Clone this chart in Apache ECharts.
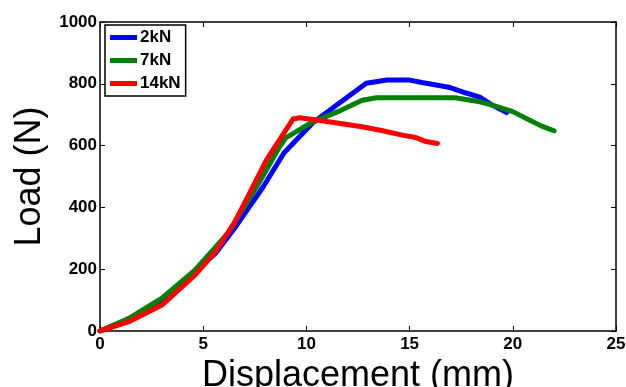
<!DOCTYPE html>
<html>
<head>
<meta charset="utf-8">
<script src="https://cdn.jsdelivr.net/npm/echarts@6/dist/echarts.min.js"></script>
<style>
  html, body { margin: 0; padding: 0; background: #fff; }
  #chart { width: 626px; height: 387px; }
</style>
</head>
<body>
<div id="chart"></div>
<script>
// values
const disp2kN = [0, 1.4, 3.0, 4.6, 5.6, 6.6, 7.9, 8.9, 10.3, 11.6, 12.9, 13.9, 15.0, 15.6, 16.9, 17.7, 18.4, 19.0, 19.7];
const load2kN = [0, 38, 100, 190, 252, 340, 466, 575, 673, 738, 802, 812, 812, 804, 789, 771, 757, 731, 707];

const disp7kN = [0, 1.4, 3.0, 4.6, 6.2, 7.3, 7.7, 8.7, 9.0, 10.2, 11.5, 12.7, 13.4, 15.0, 17.2, 18.4, 19.0, 20.0, 20.8, 21.4, 22.0];
const load7kN = [0, 41, 106, 197, 317, 435, 479, 596, 625, 673, 709, 747, 755, 755, 755, 742, 731, 710, 683, 663, 648];

const disp14kN = [0, 1.4, 3.0, 4.6, 5.6, 6.5, 7.25, 8.06, 9.35, 9.67, 10.5, 11.4, 12.7, 13.7, 14.65, 15.3, 15.8, 16.35];
const load14kN = [0, 30, 84, 181, 257, 349, 446, 553, 686, 690, 683, 674, 661, 648, 634, 626, 613, 607];

const seriesNames = ['2kN', '7kN', '14kN'];
const seriesColors = ['#0000ff', '#008000', '#ff0000'];

const xTicks = { min: 0, max: 25, interval: 5 };
const yTicks = { min: 0, max: 1000, interval: 200 };

const font = 'Liberation Sans, Arial, Helvetica, sans-serif';

function pairs(xs, ys) {
  return xs.map((x, i) => [x, ys[i]]);
}

const chart = echarts.init(document.getElementById('chart'), null, { renderer: 'canvas' });

const lineStyleAxis = { color: '#000', width: 1.5 };
const tickInside = { show: true, inside: true, length: 5, lineStyle: { color: '#000', width: 1 } };
const tickLabel = { fontFamily: font, fontSize: 17, fontWeight: 'bold', color: '#000', formatter: v => String(v) };

chart.setOption({
  animation: false,
  backgroundColor: '#fff',
  grid: { left: 100, right: 10, top: 22, bottom: 56, containLabel: false, outerBoundsMode: 'none' },
  legend: {
    left: 105,
    top: 25,
    orient: 'vertical',
    icon: 'rect',
    itemWidth: 27,
    itemHeight: 5,
    itemGap: 6,
    padding: [4, 5, 4, 5],
    borderColor: '#000',
    borderWidth: 1.5,
    backgroundColor: '#fff',
    textStyle: { fontFamily: font, fontSize: 17, fontWeight: 'bold', color: '#000', padding: [0, 0, 0, -2] },
    data: seriesNames
  },
  xAxis: [
    {
      type: 'value',
      ...xTicks,
      name: 'Displacement (mm)',
      nameLocation: 'middle',
      nameGap: 18,
      nameTextStyle: { fontFamily: font, fontSize: 36, color: '#000' },
      axisLine: { show: true, onZero: false, lineStyle: lineStyleAxis },
      axisTick: tickInside,
      axisLabel: { ...tickLabel, margin: 5 },
      splitLine: { show: false }
    },
    {
      type: 'value',
      position: 'top',
      ...xTicks,
      axisLine: { show: true, onZero: false, lineStyle: lineStyleAxis },
      axisTick: tickInside,
      axisLabel: { show: false },
      splitLine: { show: false }
    }
  ],
  yAxis: [
    {
      type: 'value',
      ...yTicks,
      name: 'Load (N)',
      nameLocation: 'middle',
      nameGap: 40,
      nameTextStyle: { fontFamily: font, fontSize: 36, color: '#000' },
      axisLine: { show: true, onZero: false, lineStyle: lineStyleAxis },
      axisTick: tickInside,
      axisLabel: { ...tickLabel, margin: 3 },
      splitLine: { show: false }
    },
    {
      type: 'value',
      position: 'right',
      ...yTicks,
      axisLine: { show: true, onZero: false, lineStyle: lineStyleAxis },
      axisTick: tickInside,
      axisLabel: { show: false },
      splitLine: { show: false }
    }
  ],
  series: [
    { name: seriesNames[0], data: pairs(disp2kN, load2kN) },
    { name: seriesNames[1], data: pairs(disp7kN, load7kN) },
    { name: seriesNames[2], data: pairs(disp14kN, load14kN) }
  ].map((s, i) => ({
    ...s,
    type: 'line',
    xAxisIndex: 0,
    yAxisIndex: 0,
    showSymbol: false,
    smooth: false,
    color: seriesColors[i],
    lineStyle: { width: 5, color: seriesColors[i], join: 'round', cap: 'round' },
    emphasis: { disabled: true }
  }))
});
</script>
</body>
</html>
